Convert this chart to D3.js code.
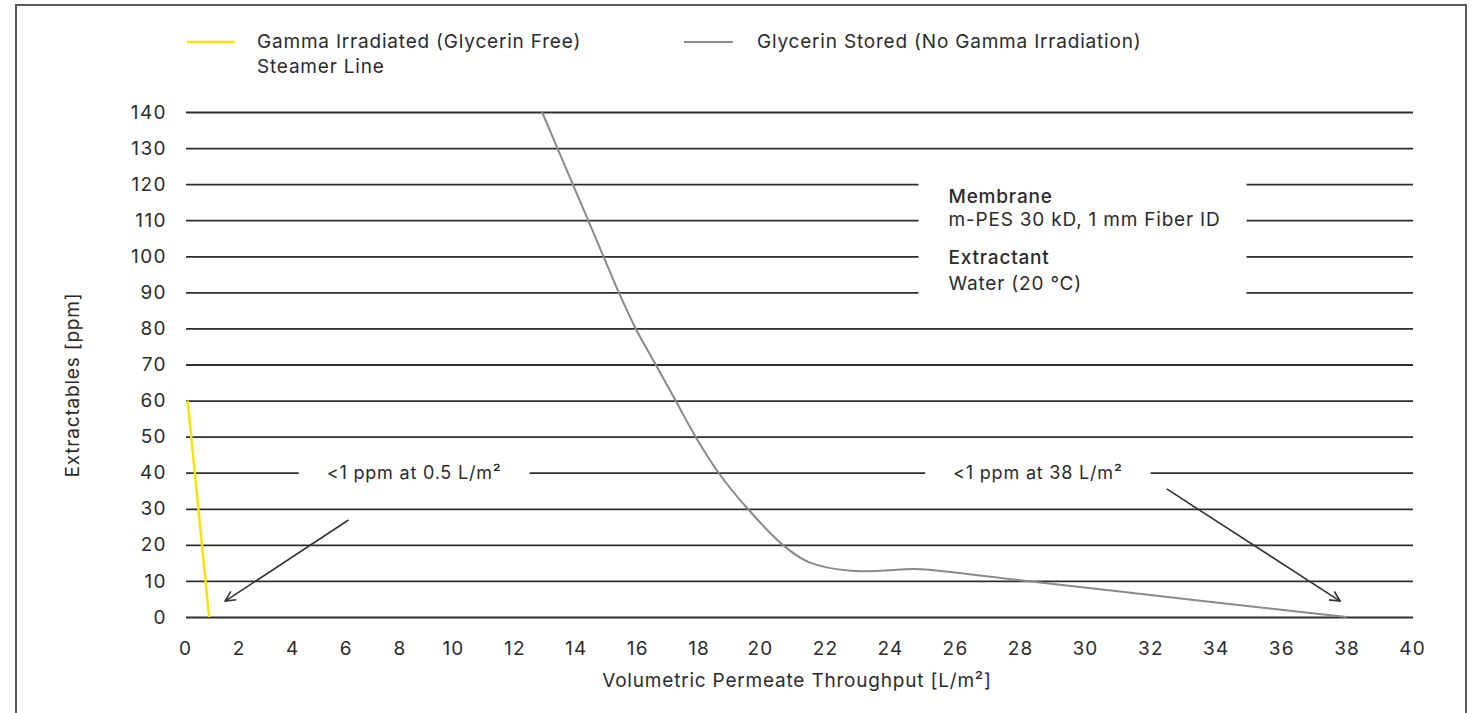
<!DOCTYPE html>
<html>
<head>
<meta charset="utf-8">
<script src="https://cdn.jsdelivr.net/npm/d3@7"></script>
<style>
  html, body { margin: 0; padding: 0; background: #fff; }
  svg { display: block; }
  text { font-family: Inter, "Noto Sans", sans-serif; fill: #2b2b2b; letter-spacing: 0.8px; }
</style>
</head>
<body>
<svg id="chart" width="1473" height="713"></svg>
<script>
// ---------- data ----------
const xTicks = [0,2,4,6,8,10,12,14,16,18,20,22,24,26,28,30,32,34,36,38,40];
const yTicks = [0,10,20,30,40,50,60,70,80,90,100,110,120,130,140];

const gammaX = [0.1, 0.9];
const gammaY = [60, 0];

const glycerinX = [12.9, 13.4, 13.9, 14.4, 14.9, 15.4, 15.95, 16.6, 17.25, 17.9, 18.65, 19.6, 20.7, 21.5, 22.8, 24.7, 25.1, 28, 32, 36, 38];
const glycerinY = [140, 130, 120, 110, 100, 90, 80, 70, 60, 50, 40, 30, 20, 15.2, 12.8, 13.3, 13.2, 10.2, 6.1, 2.0, 0];

const seriesNames = ["Gamma Irradiated (Glycerin Free)", "Steamer Line", "Glycerin Stored (No Gamma Irradiation)"];
const xTitle = "Volumetric Permeate Throughput [L/m²]";
const yTitle = "Extractables [ppm]";

const noteLabels = ["<1 ppm at 0.5 L/m²", "<1 ppm at 38 L/m²"];
const noteX = [8.55, 28.55];
const noteY = [40, 40];
const arrowFromX = [6.1, 32.5], arrowFromY = [26.9, 35.5];
const arrowToX = [1.5, 37.8],  arrowToY = [4.4, 4.4];

const infoLines = ["Membrane", "m-PES 30 kD, 1 mm Fiber ID", "Extractant", "Water (20 °C)"];
const infoBold = [true, false, true, false];
const infoX = 25.8;
const infoY = [116.5, 110, 99.5, 92.3];

// ---------- layout ----------
const svg = d3.select("#chart");
const pLeft = 185, pRight = 1413, pTop = 112, pBottom = 617;
const FS = "19px";

// tick labels in the original are not evenly spaced: piecewise linear scale
const x = d3.scaleLinear()
  .domain([0, 10, 20, 30, 40])
  .range([pLeft, 453, 760, 1085, 1412]);
const y = d3.scaleLinear().domain([0, 140]).range([pBottom, pTop]);

// frame
svg.append("rect")
  .attr("x", 16).attr("y", 5).attr("width", 1450).attr("height", 730)
  .attr("fill", "none").attr("stroke", "#5a5a5a").attr("stroke-width", 2);

// gridlines via axis
const yAxis = d3.axisLeft(y).tickValues(yTicks).tickSize(-(pRight - pLeft - 1)).tickPadding(20);
const gy = svg.append("g").attr("transform", `translate(${pLeft + 1},0)`).call(yAxis);
gy.select(".domain").remove();
gy.selectAll(".tick line").attr("stroke", "#2e2e2e").attr("stroke-width", 1.8);
gy.selectAll(".tick text")
  .style("font-size", FS).style("letter-spacing", "1.4px").attr("fill", "#2b2b2b").attr("x", -19);

const xAxis = d3.axisBottom(x).tickValues(xTicks).tickSize(0).tickPadding(0);
const gx = svg.append("g").attr("transform", `translate(0,${pBottom + 24})`).call(xAxis);
gx.select(".domain").remove();
gx.selectAll(".tick text").style("font-size", FS).style("letter-spacing", "1.2px").attr("fill", "#2b2b2b");

// axis titles
svg.append("text")
  .attr("x", 797).attr("y", 687).attr("text-anchor", "middle")
  .style("font-size", FS).text(xTitle);
svg.append("text")
  .attr("transform", `translate(79,385) rotate(-90)`).attr("text-anchor", "middle")
  .style("font-size", FS).text(yTitle);

// annotation texts with white knockout behind
function knock(sel, padX, padY) {
  const b = sel.node().getBBox();
  svg.insert("rect", ".anno")
    .attr("x", b.x - padX).attr("y", b.y - padY)
    .attr("width", b.width + 2 * padX).attr("height", b.height + 2 * padY)
    .attr("fill", "#fff");
}

const annoG = svg.append("g").attr("class", "anno");
noteLabels.forEach((t, i) => {
  const tx = annoG.append("text")
    .attr("x", x(noteX[i])).attr("y", y(noteY[i]) + 6)
    .attr("text-anchor", "middle").style("font-size", "18px").text(t);
  knock(tx, 28, 6);
});

const infoG = annoG.append("g");
infoLines.forEach((t, i) => {
  infoG.append("text")
    .attr("x", x(infoX)).attr("y", y(infoY[i]) + 6)
    .style("font-size", FS)
    .style("font-weight", infoBold[i] ? 500 : 400)
    .text(t);
});
(function () {
  const b = infoG.node().getBBox();
  svg.insert("rect", ".anno")
    .attr("x", b.x - 30).attr("y", b.y - 4)
    .attr("width", b.width + 56).attr("height", b.height + 6)
    .attr("fill", "#fff");
})();

// arrows
svg.append("defs").append("marker")
  .attr("id", "arr").attr("viewBox", "0 0 12 12").attr("refX", 11).attr("refY", 6)
  .attr("markerWidth", 12).attr("markerHeight", 12).attr("markerUnits", "userSpaceOnUse")
  .attr("orient", "auto")
  .append("path").attr("d", "M1,1 L11,6 L1,11").attr("fill", "none")
  .attr("stroke", "#333").attr("stroke-width", 1.6);

arrowFromX.forEach((v, i) => {
  svg.append("line")
    .attr("x1", x(v)).attr("y1", y(arrowFromY[i]))
    .attr("x2", x(arrowToX[i])).attr("y2", y(arrowToY[i]))
    .attr("stroke", "#333").attr("stroke-width", 1.6)
    .attr("marker-end", "url(#arr)");
});

// series
svg.append("path")
  .datum(glycerinX.map((v, i) => [v, glycerinY[i]]))
  .attr("d", d3.line().x(d => x(d[0])).y(d => y(d[1])).curve(d3.curveCatmullRom.alpha(0.5)))
  .attr("fill", "none").attr("stroke", "#8a8a8a").attr("stroke-width", 2);

svg.append("path")
  .datum(gammaX.map((v, i) => [v, gammaY[i]]))
  .attr("d", d3.line().x(d => x(d[0])).y(d => y(d[1])))
  .attr("fill", "none").attr("stroke", "#f7e400").attr("stroke-width", 2.5);

// legend
const lg = svg.append("g");
lg.append("line").attr("x1", 187).attr("x2", 235).attr("y1", 42).attr("y2", 42)
  .attr("stroke", "#f7e400").attr("stroke-width", 2.5);
lg.append("text").attr("x", 257).attr("y", 48).style("font-size", FS).text(seriesNames[0]);
lg.append("text").attr("x", 257).attr("y", 73).style("font-size", FS).text(seriesNames[1]);
lg.append("line").attr("x1", 684).attr("x2", 733).attr("y1", 42).attr("y2", 42)
  .attr("stroke", "#8a8a8a").attr("stroke-width", 2);
lg.append("text").attr("x", 757).attr("y", 48).style("font-size", FS).text(seriesNames[2]);
</script>
</body>
</html>
